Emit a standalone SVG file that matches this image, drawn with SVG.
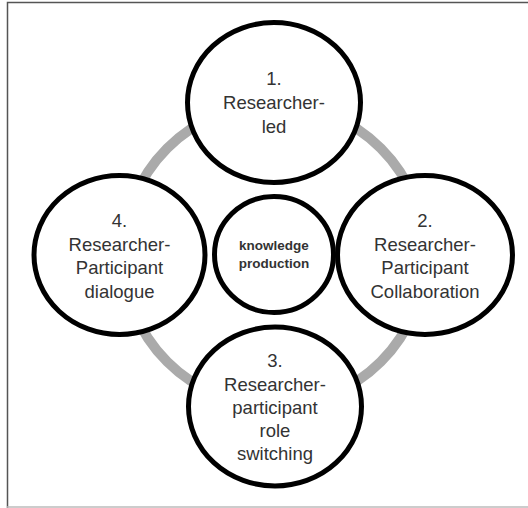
<svg xmlns="http://www.w3.org/2000/svg" width="528" height="508" viewBox="0 0 528 508">
<style>
.node{fill:#fff;stroke:#000;stroke-width:5}
.lbl{font-family:"Liberation Sans",Arial,sans-serif;font-size:18.5px;fill:#333;text-anchor:middle}
.ctr{font-family:"Liberation Sans",Arial,sans-serif;font-size:13.5px;font-weight:bold;fill:#333;text-anchor:middle}
</style>
<rect x="0" y="0" width="528" height="508" fill="#fff"/>
<path d="M7.5 508 V2.5 H528" fill="none" stroke="#555" stroke-width="1.5"/>
<line x1="7" y1="507" x2="528" y2="507" stroke="#bbb" stroke-width="1.5"/>
<g id="connectors">
<circle cx="274" cy="255" r="151" fill="none" stroke="#aaa" stroke-width="10"/>
</g>
<g id="node-center">
<ellipse class="node" cx="274" cy="254.5" rx="59.5" ry="58"/>
<text class="ctr" x="274" y="250">knowledge</text>
<text class="ctr" x="274" y="268">production</text>
</g>
<g id="node-1">
<ellipse class="node" cx="274" cy="102.5" rx="86.5" ry="80"/>
<text class="lbl" x="274" y="85">1.</text>
<text class="lbl" x="274" y="109">Researcher-</text>
<text class="lbl" x="274" y="133">led</text>
</g>
<g id="node-2">
<ellipse class="node" cx="425" cy="255" rx="87.5" ry="79.5"/>
<text class="lbl" x="425" y="227">2.</text>
<text class="lbl" x="425" y="250.5">Researcher-</text>
<text class="lbl" x="425" y="274">Participant</text>
<text class="lbl" x="425" y="297.5">Collaboration</text>
</g>
<g id="node-3">
<ellipse class="node" cx="275" cy="406.5" rx="86.5" ry="79.5"/>
<text class="lbl" x="275" y="367">3.</text>
<text class="lbl" x="275" y="390.5">Researcher-</text>
<text class="lbl" x="275" y="413.5">participant</text>
<text class="lbl" x="275" y="437">role</text>
<text class="lbl" x="275" y="460">switching</text>
</g>
<g id="node-4">
<ellipse class="node" cx="119.5" cy="255" rx="85.5" ry="79.5"/>
<text class="lbl" x="119.5" y="227">4.</text>
<text class="lbl" x="119.5" y="250.5">Researcher-</text>
<text class="lbl" x="119.5" y="274">Participant</text>
<text class="lbl" x="119.5" y="297.5">dialogue</text>
</g>
</svg>
